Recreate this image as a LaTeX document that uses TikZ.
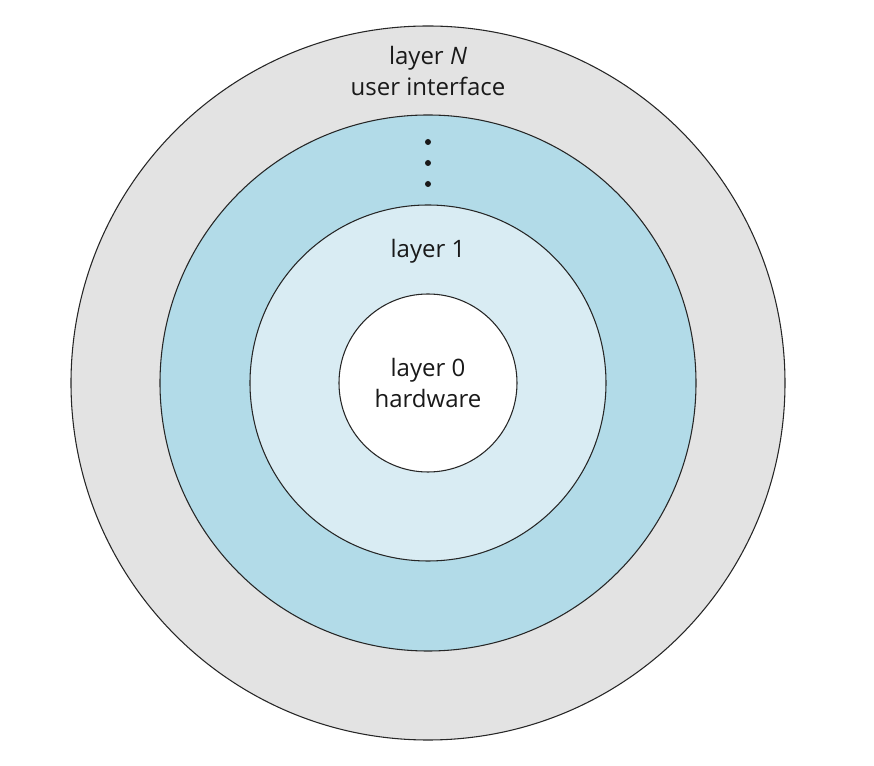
\documentclass[tikz,border=0pt]{standalone}
\usepackage{fontspec}
\setmainfont{Open Sans}
\definecolor{ringgray}{HTML}{E3E3E3}
\definecolor{ringblue}{HTML}{B2DBE8}
\definecolor{ringlight}{HTML}{D9ECF3}
\tikzset{
    ring/.style={draw=black!85, line width=0.8pt},
    layertext/.style={anchor=base, inner sep=0pt, font=\fontsize{18}{22}\selectfont, text=black!90}
}
\begin{document}
\begin{tikzpicture}[x=0.75pt, y=0.75pt]
    % Fix the page size
    \useasboundingbox (-428,-383) rectangle (446,383);

    % Draw the rings from outside in
    \filldraw[ring, fill=ringgray] (0,0) circle[radius=357];
    \filldraw[ring, fill=ringblue] (0,0) circle[radius=268];
    \filldraw[ring, fill=ringlight] (0,0) circle[radius=178];
    \filldraw[ring, fill=white] (0,0) circle[radius=89];

    % Draw the labels
    \node[layertext] (layerN) at (0,318) {layer \textit{N}};
    \node[layertext] (ui) at (0,287) {user interface};
    \node[layertext] (layer1) at (0,125) {layer 1};
    \node[layertext] (layer0) at (0,6) {layer 0};
    \node[layertext] (hw) at (0,-25) {hardware};

    % Draw the dots between layer 1 and layer N
    \foreach \y in {241, 220, 199} {
        \fill[black!90] (0,\y) circle[radius=3];  % dot
    }
\end{tikzpicture}
\end{document}
